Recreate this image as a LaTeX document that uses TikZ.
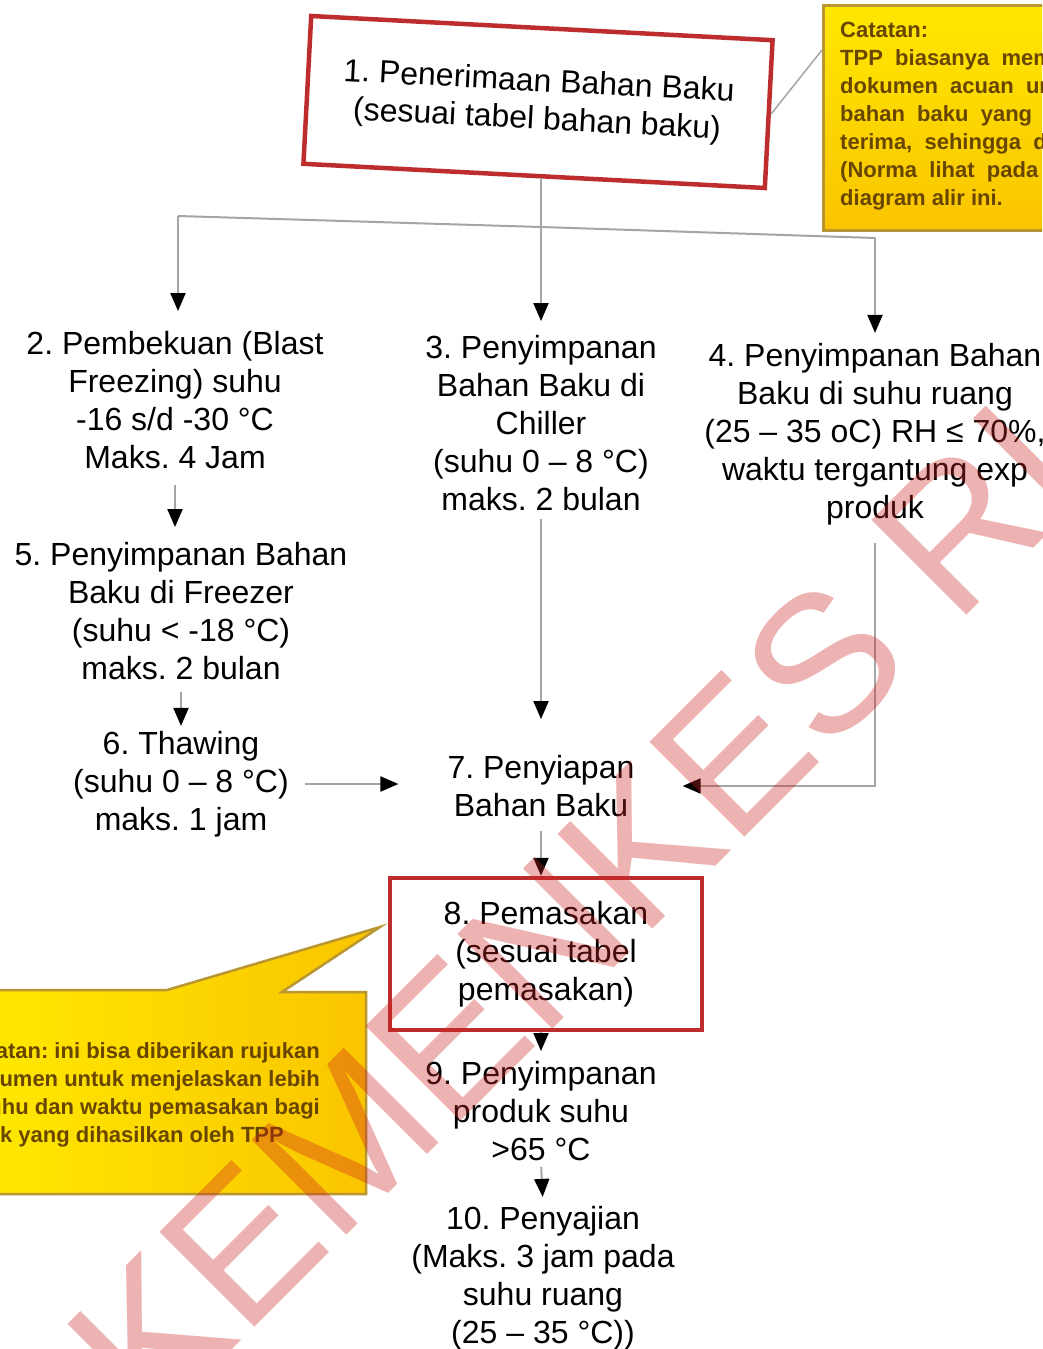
\documentclass[tikz,border=0pt]{standalone}
\usepackage{fontspec}
\setmainfont{Liberation Sans}
\usetikzlibrary{arrows.meta,calc}
\definecolor{boxred}{RGB}{190,45,45}
\definecolor{linegray}{RGB}{165,165,165}
\definecolor{ylw}{RGB}{255,232,0}
\definecolor{gold}{RGB}{250,196,0}
\definecolor{goldline}{RGB}{185,150,50}
\definecolor{notetext}{RGB}{105,70,0}
\definecolor{wmred}{RGB}{205,35,35}
\frenchspacing
\begin{document}
\begin{tikzpicture}[x=1pt,y=-1pt,
  stepnode/.style={align=center, font=\fontsize{32}{38}\selectfont, inner sep=2pt, text=black},
  redbox/.style={draw=boxred, line width=4.5pt},
  conn/.style={draw=linegray, line width=2pt, -{Triangle[length=18pt,width=15pt,color=black]}},
  plain/.style={draw=linegray, line width=2pt},
  notefont/.style={font=\fontsize{22}{28}\selectfont\bfseries, text=notetext, inner sep=0pt},
  wmark/.style={font=\fontsize{195}{200}\selectfont, text=wmred, text opacity=0.35, inner sep=0pt}
]
\useasboundingbox (0,0) rectangle (1042,1349);
\clip (0,0) rectangle (1042,1349);
\fill[white] (0,0) rectangle (1042,1349);

% top-right note
\node[draw=goldline, line width=3pt, top color=ylw, bottom color=gold, minimum width=260pt, minimum height=225pt, anchor=north west, inner sep=0pt] (noteA) at (822,4) {};
\node[notefont, anchor=north west, align=left] (noteAtext) at (840,22) {Catatan:\\TPP \ biasanya \ memiliki\\dokumen \ acuan \ untuk\\bahan \ baku \ yang \ di-\\terima, \ sehingga \ dapat\\(Norma \ lihat \ pada\\diagram alir ini.};

% left note
\path[draw=goldline, line width=2.5pt, left color=ylw, right color=gold]
  (-10,990) -- (167,990) -- (380,927) -- (282,992) -- (366,992) -- (366,1194) -- (-10,1194) -- cycle;
\node[notefont, anchor=north east, align=right] (noteBtext) at (320,1042) {Catatan: ini bisa diberikan rujukan\\dokumen untuk menjelaskan lebih\\lanjut suhu dan waktu pemasakan bagi\\produk yang dihasilkan oleh TPP\hspace*{36pt}};

% nodes
\node[stepnode, redbox, rotate=-3, minimum width=462pt, minimum height=148pt] (n1) at (538,102) {1. Penerimaan Bahan Baku\\(sesuai tabel bahan baku)};
\node[stepnode] (n2) at (175,400) {2. Pembekuan (Blast\\Freezing) suhu\\-16 s/d -30 °C\\Maks. 4 Jam};
\node[stepnode] (n3) at (541,423) {3. Penyimpanan\\Bahan Baku di\\Chiller\\(suhu 0 – 8 °C)\\maks. 2 bulan};
\node[stepnode] (n4) at (875,434) {4. Penyimpanan Bahan\\Baku di suhu ruang\\(25 – 35 oC) RH ≤ 70\%,\\waktu tergantung exp\\produk};
\node[stepnode] (n5) at (181,611) {5. Penyimpanan Bahan\\Baku di Freezer\\(suhu < -18 °C)\\maks. 2 bulan};
\node[stepnode] (n6) at (181,784) {6. Thawing\\(suhu 0 – 8 °C)\\maks. 1 jam};
\node[stepnode] (n7) at (541,786) {7. Penyiapan\\Bahan Baku};
\node[stepnode, redbox, minimum width=312pt, minimum height=152pt] (n8) at (546,954) {8. Pemasakan\\(sesuai tabel\\pemasakan)};
\node[stepnode] (n9) at (541,1111) {9. Penyimpanan\\produk suhu\\>65 °C};
\node[stepnode] (n10) at (543,1278) {10. Penyajian\\(Maks. 3 jam pada\\suhu ruang\\(25 – 35 °C))};

% note connector
\draw[linegray, line width=1.5pt] (n1.east) -- ($(noteA.north west)+(0,46)$);

% connectors
\coordinate (jl) at (178,216);
\coordinate (jm) at (541,227);
\coordinate (jr) at (875,238);
\draw[plain] (jl) -- (jm) -- (jr);
\draw[conn, shorten >=12pt] (n1.south -| jm) -- (jm |- n3.north);
\draw[conn, shorten >=18pt] (jl) -- (jl |- n2.north);
\draw[conn, shorten >=8pt] (jr) -- (jr |- n4.north);
\draw[conn, shorten <=14pt, shorten >=13pt] (n2.south) -- (n2.south |- n5.north);
\draw[conn, shorten <=10pt, shorten >=3pt] (n5.south) -- (n5.south |- n6.north);
\draw[conn, shorten <=14pt, shorten >=47pt] (n6.east) -- (n6.east -| n7.west);
\draw[conn, shorten <=6pt, shorten >=34pt] (n3.south) -- (n3.south |- n7.north);
\draw[conn, shorten <=16pt, shorten >=46pt] (n4.south) |- (n7.east);
\draw[conn, shorten <=12pt] (n7.south) -- (n7.south |- n8.north);
\draw[conn, shorten >=8pt] (n8.south -| n9) -- (n9.north);
\draw[conn, shorten <=4pt, shorten >=7pt] (n9.south) -- (n10.north);

% watermark
\node[wmark, anchor=base west, rotate=45] (wm) at (151,1431) {KEMENKES RI};
\end{tikzpicture}
\end{document}
